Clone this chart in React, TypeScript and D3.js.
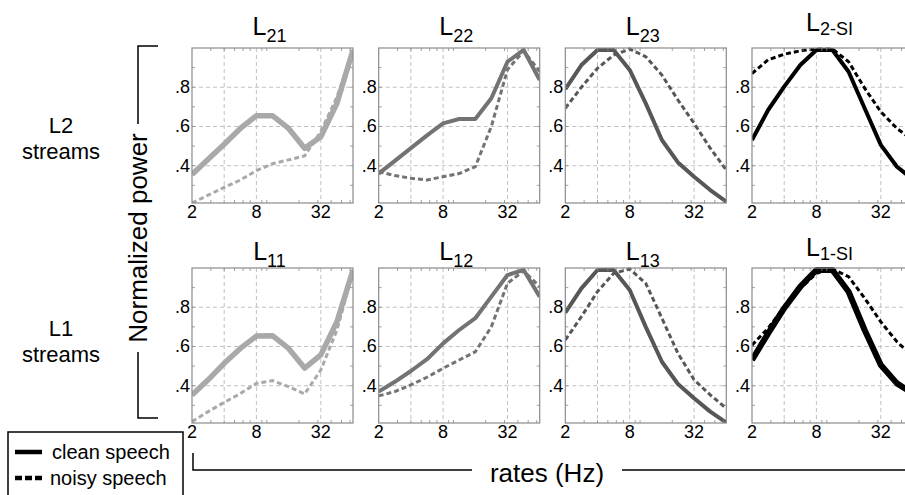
import React from "react";
import * as d3 from "d3";

// modulation rates (Hz), half-octave steps
const rates = [2, 2.83, 4, 5.66, 8, 11.3, 16, 22.6, 32, 45.3, 64];

// L2 streams (top row)
const l21Clean = [0.355, 0.433, 0.51, 0.59, 0.655, 0.655, 0.59, 0.489, 0.548, 0.718, 0.99];
const l21Noisy = [0.21, 0.25, 0.29, 0.327, 0.375, 0.41, 0.43, 0.45, 0.574, 0.75, 0.99];
const l22Clean = [0.36, 0.425, 0.49, 0.555, 0.616, 0.638, 0.638, 0.744, 0.93, 0.99, 0.837];
const l22Noisy = [0.37, 0.35, 0.336, 0.327, 0.344, 0.36, 0.395, 0.6, 0.89, 0.985, 0.88];
const l23Clean = [0.79, 0.913, 0.99, 0.99, 0.888, 0.718, 0.531, 0.417, 0.344, 0.276, 0.217];
const l23Noisy = [0.693, 0.8, 0.897, 0.964, 0.995, 0.956, 0.862, 0.735, 0.616, 0.489, 0.378];
const l2siClean = [0.531, 0.684, 0.803, 0.913, 0.99, 0.99, 0.879, 0.693, 0.506, 0.395, 0.33];
const l2siNoisy = [0.87, 0.94, 0.968, 0.986, 0.995, 0.995, 0.93, 0.795, 0.675, 0.59, 0.53];

// L1 streams (bottom row)
const l11Clean = [0.353, 0.43, 0.514, 0.59, 0.653, 0.655, 0.59, 0.49, 0.557, 0.726, 0.99];
const l11Noisy = [0.217, 0.268, 0.315, 0.36, 0.412, 0.426, 0.395, 0.358, 0.48, 0.684, 0.98];
const l12Clean = [0.37, 0.42, 0.475, 0.535, 0.616, 0.684, 0.744, 0.854, 0.964, 0.99, 0.854];
const l12Noisy = [0.348, 0.37, 0.404, 0.443, 0.489, 0.531, 0.573, 0.7, 0.922, 0.986, 0.905];
const l13Clean = [0.772, 0.896, 0.99, 0.99, 0.888, 0.7, 0.522, 0.409, 0.336, 0.268, 0.212];
const l13Noisy = [0.633, 0.752, 0.88, 0.973, 0.995, 0.922, 0.744, 0.565, 0.43, 0.353, 0.285];
const l1siClean = [0.531, 0.667, 0.795, 0.905, 0.99, 0.99, 0.879, 0.684, 0.506, 0.412, 0.36];
const l1siNoisy = [0.607, 0.693, 0.803, 0.896, 0.973, 0.995, 0.956, 0.846, 0.726, 0.624, 0.55];

const titleSubsTop = ["21", "22", "23", "2-SI"];
const titleSubsBottom = ["11", "12", "13", "1-SI"];
const xTickLabels = [2, 8, 32];
const yTickLabels = [0.4, 0.6, 0.8];
const xGrid = [4, 8, 32];
const xMinor = [3, 4, 5, 6, 7, 9, 10, 20, 30, 40, 50, 60];
const yMinor = [0.3, 0.5, 0.7, 0.9];

const panelColors = ["#a9a9a9", "#737373", "#575757", "#000000"];

const topRow = [
  [l21Clean, l21Noisy],
  [l22Clean, l22Noisy],
  [l23Clean, l23Noisy],
  [l2siClean, l2siNoisy],
];
const bottomRow = [
  [l11Clean, l11Noisy],
  [l12Clean, l12Noisy],
  [l13Clean, l13Noisy],
  [l1siClean, l1siNoisy],
];

const W = 905;
const H = 495;
const pw = 161;
const ph = 155;
const lefts = [192, 378.7, 565.3, 752];
const tops = [48, 268];
const font = "Liberation Sans, Arial, Helvetica, sans-serif";

const x = d3.scaleLog().base(2).domain([2, 64]).range([0, pw]);
const y = d3.scaleLinear().domain([0.21, 1]).range([ph, 0]);
const line = d3
  .line<number>()
  .x((d, i) => x(rates[i]))
  .y((d) => y(d));

const fmt = (v: number) => d3.format(".1f")(v).replace(/^0/, "");

function Panel({ left, top, series, color, sub, row, col }: any) {
  const id = `clip-${row}-${col}`;
  const si = sub.includes("SI");
  const cleanW = col === 0 ? 5.5 : col === 3 && row === 1 ? 6 : 4;
  const titleY = row === 0 ? -13 : -8;
  return (
    <g transform={`translate(${left},${top})`}>
      <clipPath id={id}>
        <rect x={0} y={-3} width={pw} height={ph + 3} />
      </clipPath>
      {yTickLabels.map((v) => (
        <line key={"gy" + v} x1={0} x2={pw} y1={y(v)} y2={y(v)} stroke="#b0b0b0" strokeDasharray="4,3" strokeWidth={0.8} />
      ))}
      {xGrid.map((v) => (
        <line key={"gx" + v} x1={x(v)} x2={x(v)} y1={0} y2={ph} stroke="#b0b0b0" strokeDasharray="4,3" strokeWidth={0.8} />
      ))}
      <g clipPath={`url(#${id})`} fill="none">
        <path d={line(series[1]) || ""} stroke={color} strokeWidth={3} strokeDasharray="5,3" />
        <path d={line(series[0]) || ""} stroke={color} strokeWidth={cleanW} strokeLinejoin="round" />
      </g>
      <rect x={0} y={0} width={pw} height={ph} fill="none" stroke="#8a8a8a" strokeWidth={1.2} />
      {xMinor.map((v) => (
        <g key={"mx" + v} stroke="#8a8a8a" strokeWidth={0.8}>
          <line x1={x(v)} x2={x(v)} y1={ph} y2={ph - 3} />
          <line x1={x(v)} x2={x(v)} y1={0} y2={3} />
        </g>
      ))}
      {yMinor.concat(yTickLabels).map((v) => (
        <g key={"my" + v} stroke="#8a8a8a" strokeWidth={0.8}>
          <line x1={0} x2={3} y1={y(v)} y2={y(v)} />
          <line x1={pw} x2={pw - 3} y1={y(v)} y2={y(v)} />
        </g>
      ))}
      {xTickLabels.map((v) => (
        <text key={"tx" + v} x={x(v)} y={ph + 15} textAnchor="middle" fontSize={18} fontFamily={font}>
          {v}
        </text>
      ))}
      {yTickLabels.map((v) => (
        <text key={"ty" + v} x={-2} y={y(v) + 6} textAnchor="end" fontSize={18} fontFamily={font}>
          {fmt(v)}
        </text>
      ))}
      <text x={pw / 2 - 3} y={titleY + (si ? -4 : 0)} textAnchor="middle" fontFamily={font}>
        <tspan fontSize={25}>L</tspan>
        <tspan fontSize={18} dy={si ? 4 : 7}>
          {sub}
        </tspan>
      </text>
    </g>
  );
}

export default function App() {
  return (
    <svg width={W} height={H} style={{ position: "absolute", left: 0, top: 0, background: "#fff" }}>
      {topRow.map((s, i) => (
        <Panel key={"t" + i} left={lefts[i]} top={tops[0]} series={s} color={panelColors[i]} sub={titleSubsTop[i]} row={0} col={i} />
      ))}
      {bottomRow.map((s, i) => (
        <Panel key={"b" + i} left={lefts[i]} top={tops[1]} series={s} color={panelColors[i]} sub={titleSubsBottom[i]} row={1} col={i} />
      ))}

      {/* row labels */}
      <g fontFamily={font} fontSize={22} textAnchor="middle">
        <text x={61} y={133}>L2</text>
        <text x={61} y={159}>streams</text>
        <text x={61} y={336}>L1</text>
        <text x={61} y={362}>streams</text>
      </g>

      {/* y bracket */}
      <g stroke="#000" strokeWidth={1.5} fill="none">
        <polyline points="158,46 138,46 138,124" />
        <polyline points="138,352 138,418 158,418" />
      </g>
      <text transform="translate(147,238) rotate(-90)" textAnchor="middle" fontSize={26} fontFamily={font}>
        Normalized power
      </text>

      {/* x bracket */}
      <g stroke="#000" strokeWidth={1.5} fill="none">
        <polyline points="193,453 193,470 472,470" />
        <line x1={622} x2={W} y1={470} y2={470} />
      </g>
      <text x={547} y={482} textAnchor="middle" fontSize={26} fontFamily={font}>
        rates (Hz)
      </text>

      {/* legend */}
      <rect x={8} y={432} width={175} height={70} fill="#fff" stroke="#000" strokeWidth={1.5} />
      <line x1={15} x2={42} y1={452} y2={452} stroke="#000" strokeWidth={4.5} />
      <line x1={15} x2={42} y1={478} y2={478} stroke="#000" strokeWidth={4.5} strokeDasharray="7,3" />
      <text x={52} y={459} fontSize={20} fontFamily={font}>clean speech</text>
      <text x={50} y={485} fontSize={20} fontFamily={font}>noisy speech</text>
    </svg>
  );
}
